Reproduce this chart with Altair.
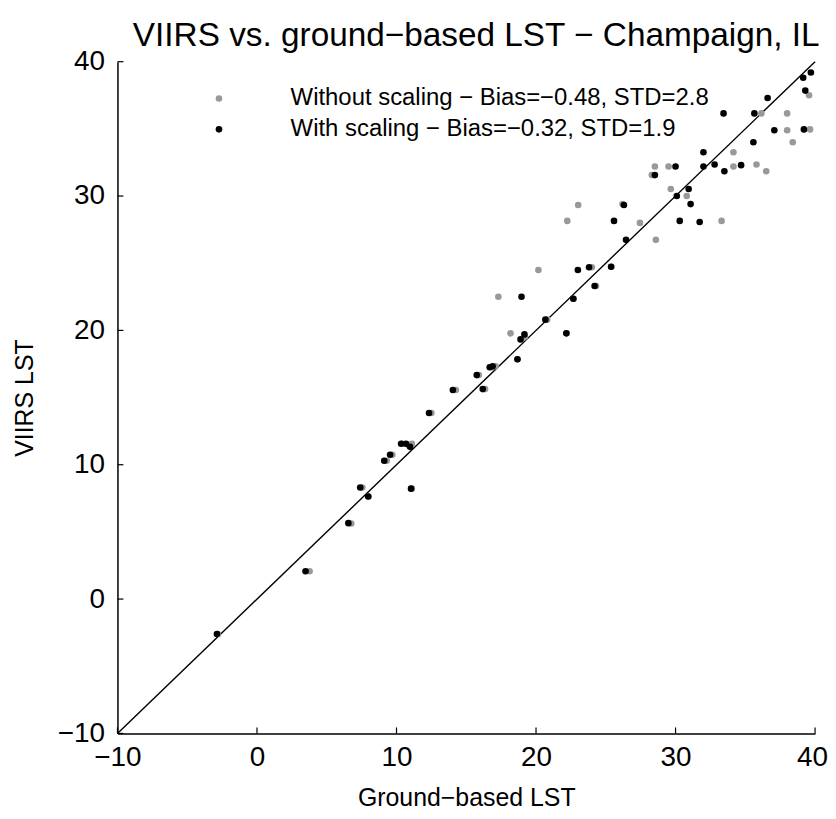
import altair as alt
import pandas as pd

# Without scaling (gray)
gray_x = [-2.8, 3.77, 6.76, 7.55, 8.0, 9.3, 9.7, 10.4, 10.8, 11.1, 11.1, 12.5, 14.25, 15.9, 16.35,
          17.1, 16.8, 18.67, 18.17, 19.2, 20.8, 22.2, 22.7, 17.3, 20.17, 24.0, 24.3, 25.4, 28.59,
          22.24, 23.02, 26.2, 27.45, 33.3, 29.66, 30.8, 28.3, 28.52, 29.5, 34.15, 35.8, 36.5,
          34.15, 36.15, 38.0, 38.0, 39.64, 38.4, 39.57]
gray_y = [-2.6, 2.07, 5.63, 8.3, 7.63, 10.3, 10.74, 11.56, 11.5, 11.56, 8.22, 13.85, 15.56, 16.67, 15.63,
          17.33, 17.26, 17.85, 19.78, 19.5, 20.8, 19.78, 22.36, 22.5, 24.5, 24.7, 23.3, 24.74, 26.74,
          28.15, 29.33, 29.4, 28.0, 28.15, 30.52, 30.0, 31.56, 32.2, 32.2, 32.2, 32.35, 31.85,
          33.26, 36.15, 36.15, 34.9, 34.96, 34.0, 37.5]

# With scaling (black)
black_x = [-2.87, 3.48, 6.55, 7.4, 7.97, 9.12, 9.54, 10.33, 10.68, 10.97, 11.04, 12.33, 14.04, 15.75,
           16.18, 16.68, 16.89, 18.67, 18.89, 19.17, 20.67, 22.17, 22.67, 18.96, 23.0, 23.8, 24.2,
           25.38, 26.45, 25.59, 26.3, 30.3, 31.73, 30.09, 30.94, 31.08, 28.52, 30.0, 32.0, 32.8,
           33.5, 34.7, 32.0, 35.58, 37.08, 39.2, 33.44, 35.65, 36.6, 39.3, 39.15, 39.7]
black_y = [-2.6, 2.07, 5.65, 8.3, 7.63, 10.3, 10.74, 11.56, 11.56, 11.33, 8.22, 13.85, 15.56, 16.67,
           15.63, 17.26, 17.33, 17.85, 19.33, 19.7, 20.8, 19.78, 22.36, 22.5, 24.5, 24.7, 23.3,
           24.74, 26.74, 28.15, 29.33, 28.15, 28.07, 30.0, 30.52, 29.4, 31.56, 32.2, 32.2, 32.35,
           31.85, 32.3, 33.26, 34.0, 34.9, 34.96, 36.15, 36.15, 37.3, 37.85, 38.8, 39.2]

label_gray = "Without scaling \u2212 Bias=\u22120.48, STD=2.8"
label_black = "With scaling \u2212 Bias=\u22120.32, STD=1.9"

x_ticks = [-10, 0, 10, 20, 30, 40]
y_ticks = [-10, 0, 10, 20, 30, 40]
line_pts = [-10, 40]

pts = pd.DataFrame({
    "x": gray_x + black_x,
    "y": gray_y + black_y,
    "series": [label_gray] * len(gray_x) + [label_black] * len(black_x),
})
line_df = pd.DataFrame({"x": line_pts, "y": line_pts})

FONT = "Liberation Sans"
W, H = 701, 675
xs = alt.Scale(domain=[-10, 40], nice=False, zero=False)
ys = alt.Scale(domain=[-10, 40], nice=False, zero=False)

xaxis = alt.Axis(values=x_ticks, tickSize=0, grid=False, labelFontSize=28, labelPadding=10,
                 labelFlush=False,
                 labelOffset={"condition": {"test": "datum.value == 40", "value": -3}, "value": 0},
                 titleFontSize=25, titleFontWeight="normal", titlePadding=14,
                 domainColor="black", domainWidth=1.5, labelColor="black", titleColor="black",
                 labelFont=FONT, titleFont=FONT)
yaxis = alt.Axis(values=y_ticks, tickSize=0, grid=False, labelFontSize=28, labelPadding=13,
                 labelFlush=False,
                 titleFontSize=25, titleFontWeight="normal", titlePadding=20,
                 domainColor="black", domainWidth=1.5, labelColor="black", titleColor="black",
                 labelFont=FONT, titleFont=FONT)

line = alt.Chart(line_df).mark_line(color="black", strokeWidth=1.4).encode(
    x=alt.X("x:Q", scale=xs, axis=xaxis, title="Ground\u2212based LST"),
    y=alt.Y("y:Q", scale=ys, axis=yaxis, title="VIIRS LST"),
)

points = alt.Chart(pts).mark_circle(size=44, opacity=1).encode(
    x=alt.X("x:Q", scale=xs),
    y=alt.Y("y:Q", scale=ys),
    color=alt.Color("series:N",
                    scale=alt.Scale(domain=[label_gray, label_black], range=["#999999", "#000000"]),
                    legend=alt.Legend(title=None, orient="none", legendX=90, legendY=25,
                                      labelFontSize=24, labelOffset=60, symbolSize=44,
                                      symbolType="circle", rowPadding=7, labelLimit=0,
                                      labelFont=FONT, labelColor="black")),
)

xt = alt.Chart(pd.DataFrame({"v": x_ticks})).mark_rule(color="black", strokeWidth=1.2).encode(
    x=alt.X("v:Q", scale=xs), y=alt.value(H), y2=alt.value(H - 6))
yt = alt.Chart(pd.DataFrame({"v": y_ticks})).mark_rule(color="black", strokeWidth=1.2).encode(
    y=alt.Y("v:Q", scale=ys), x=alt.value(0), x2=alt.value(6))

chart = alt.layer(line, points, xt, yt).properties(
    width=W, height=H,
    title=alt.TitleParams("VIIRS vs. ground\u2212based LST \u2212 Champaign, IL", fontSize=33.5,
                          fontWeight="normal", font=FONT, color="black",
                          anchor="middle", dx=10, dy=14, offset=8),
    autosize=alt.AutoSizeParams(type="none"),
    padding={"left": 110, "top": 52, "right": 13, "bottom": 75},
).configure_view(stroke=None)

chart.save("out.html", embed_options={"renderer": "svg", "actions": False})
